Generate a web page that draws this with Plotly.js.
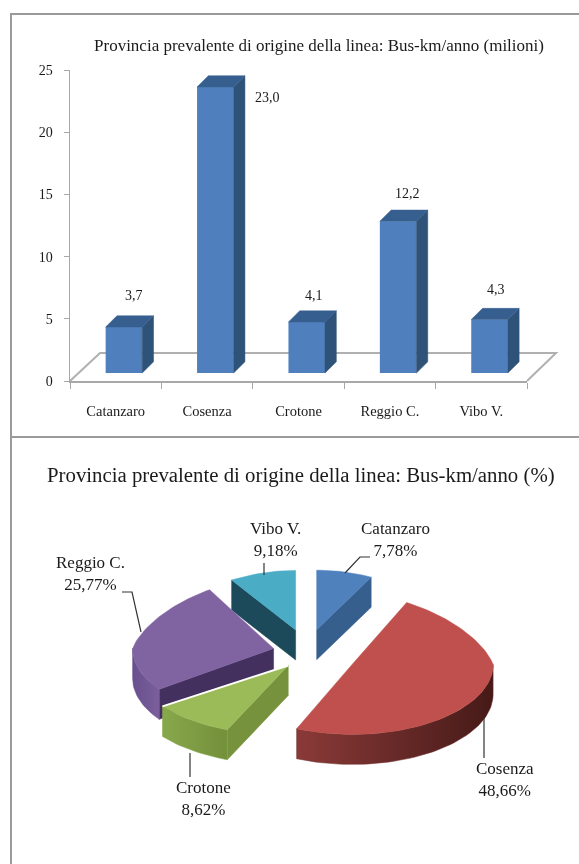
<!DOCTYPE html>
<html><head><meta charset="utf-8">
<script src="https://cdn.plot.ly/plotly-3.0.1.min.js"></script>
<style>html,body{margin:0;padding:0;background:#fff;overflow:hidden}#g{width:579px;height:864px;filter:blur(0.4px)}</style>
</head><body><div id="g"></div>
<script>
// ---- data ----
const categories = ['Catanzaro','Cosenza','Crotone','Reggio C.','Vibo V.'];
const busKm = [3.7,23.0,4.1,12.2,4.3];
const sharePct = [7.78,48.66,8.62,25.77,9.18];
const barTitle = 'Provincia prevalente di origine della linea: Bus-km/anno (milioni)';
const pieTitle = 'Provincia prevalente di origine della linea: Bus-km/anno (%)';
const yTicks = [0,5,10,15,20,25];

// ---- styles ----
const W=579,H=864, FONT='"Liberation Serif",serif', INK='#1a1a1a', GRID='#a8a8a8';
const barFront='#4f80bd', barSide='#2f5279', barTop='#365f8f';
const sliceTop=['#4f81bd','#c0504d','#9bbb59','#8064a2','#4bacc6'];
const sliceFace=['#365f8e','#5a2220','#76923c','#43305f','#1d4a5a'];
const comma=(v,d)=>v.toFixed(d).replace('.',',');
const fx=p=>p/W, fy=p=>1-p/H;

// ---- bar chart 3D construction (in axis units) ----
const barBase=0.64, barW=0.4, barOff=-0.11, depthX=0.124, depthY=0.9;
const faceTrace=(xs,ys,color)=>({type:'scatter',mode:'lines',x:xs.concat(xs[0]),y:ys.concat(ys[0]),xaxis:'x3',yaxis:'y',
  fill:'toself',fillcolor:color,line:{color:color,width:0.5},hoverinfo:'skip',showlegend:false});
const traces=[{type:'bar',x:categories,y:busKm,base:barBase,width:barW,offset:barOff,
  marker:{color:barFront,line:{width:0}},xaxis:'x',yaxis:'y',showlegend:false}];
busKm.forEach((v,i)=>{
  const L=i+barOff,R=L+barW,T=v+barBase;
  traces.push(faceTrace([R,R,R+depthX,R+depthX],[barBase,T,T+depthY,barBase+depthY],barSide));
  traces.push(faceTrace([L,R,R+depthX,L+depthX],[T,T,T+depthY,T+depthY],barTop));
});
const labelShift=[[18,-32],[60,11],[15,-27],[18,-28],[15,-30]];
const anns=busKm.map((v,i)=>({xref:'x3',yref:'y',x:i,y:v+barBase,text:comma(v,1),showarrow:false,
  xshift:labelShift[i][0],yshift:-labelShift[i][1],font:{family:FONT,size:14,color:INK},xanchor:'center',yanchor:'middle'}));

// ---- pie construction (pixel-scaled hidden axes) ----
const cx=307,cy=652,rx=141,ry=70,pullX=40,pullY=23,depth=30;
const pullK=[1,1.25,0.75,0.85,1], backK=[0.85,1,1,1,0.85], rxK=[1,1,1.1,1,1];
const total=sharePct.reduce((a,b)=>a+b,0);
let cum=0;
const spans=sharePct.map(v=>{const a=cum;cum+=v/total*360;return [a,cum];});
const rad=d=>d*Math.PI/180;
function rim(i,t){const c=centers[i],s=Math.sin(rad(t)),k=Math.cos(rad(t));
  return [c[0]+rx*rxK[i]*s*(k>0?1-0.2*k:1), c[1]-ry*k*(k>0?backK[i]:1)];}
function arc(i,a,b){const n=Math.max(2,Math.ceil(Math.abs(b-a)/2)),o=[];
  for(let j=0;j<=n;j++)o.push(rim(i,a+(b-a)*j/n));return o;}
function poly(pts,color,grad){const xs=pts.map(p=>p[0]),ys=pts.map(p=>p[1]);
  const t={type:'scatter',mode:'lines',x:xs.concat(xs[0]),y:ys.concat(ys[0]),xaxis:'x2',yaxis:'y2',fill:'toself',
    line:{color:color,width:0.5},hoverinfo:'skip',showlegend:false};
  if(grad)t.fillgradient={type:'horizontal',colorscale:[[0,grad[0]],[1,grad[1]]]};else t.fillcolor=color;
  return t;}
const centers=spans.map((s,i)=>{const m=rad((s[0]+s[1])/2);
  return [cx+pullX*pullK[i]*Math.sin(m),cy-pullY*pullK[i]*Math.cos(m)];});
const down=pts=>pts.map(p=>[p[0],p[1]+depth]);
const wallOf=(i,a,b)=>{const top=arc(i,a,b);return top.concat(down(top).reverse());};
const cutFace=(i,t)=>{const c=centers[i],e=rim(i,t);return [c,e,[e[0],e[1]+depth],[c[0],c[1]+depth]];};
const topFace=i=>[centers[i]].concat(arc(i,spans[i][0],spans[i][1]));
// back to front: Vibo, Catanzaro, Reggio, Cosenza, Crotone
traces.push(poly(cutFace(4,spans[4][0]),sliceFace[4]),poly(topFace(4),sliceTop[4]));
traces.push(poly(cutFace(0,spans[0][1]),sliceFace[0]),poly(topFace(0),sliceTop[0]));
traces.push(poly(cutFace(3,spans[3][0]),sliceFace[3]),
  poly(wallOf(3,spans[3][0],270),'#6d5490',['#6a4f8e','#7a5f9c']),poly(topFace(3),sliceTop[3]));
traces.push(poly(wallOf(1,90,spans[1][1]),'#6a2a28',['#8a3a38','#461a18']),poly(topFace(1),sliceTop[1]));
traces.push(poly(cutFace(2,spans[2][0]),sliceFace[2]),
  poly(wallOf(2,spans[2][0],spans[2][1]),'#86a64a',['#88a84c','#73903a']),
  poly(topFace(2),sliceTop[2]));
// thin white gap between Crotone's upper edge and Reggio C.
const gapEnd=rim(2,spans[2][1]);
traces.push({type:'scatter',mode:'lines',x:[centers[2][0],gapEnd[0]],y:[centers[2][1],gapEnd[1]],xaxis:'x2',yaxis:'y2',
  line:{color:'#fff',width:2},hoverinfo:'skip',showlegend:false});

// leader lines
const leaders=[[[345,573],[360,557],[370,557]],[[484,718],[484,758]],[[190,753],[190,777]],[[141,632],[132,592],[122,592]],[[264,563],[264,575]]];
leaders.forEach(l=>traces.push({type:'scatter',mode:'lines',x:l.map(p=>p[0]),y:l.map(p=>p[1]),xaxis:'x2',yaxis:'y2',
  line:{color:'#333',width:1.2},hoverinfo:'skip',showlegend:false}));
const pieLabelPos=[[395,539],[505,779],[203,798],[90,573],[275,539]];
sharePct.forEach((v,i)=>anns.push({xref:'x2',yref:'y2',x:pieLabelPos[i][0],y:pieLabelPos[i][1],
  text:categories[i]+'<br>'+comma(v,2)+'%',showarrow:false,align:'center',xanchor:'center',yanchor:'middle',
  font:{family:FONT,size:17,color:INK}}));
anns.push({xref:'paper',yref:'paper',x:fx(301),y:fy(475),text:pieTitle,showarrow:false,xanchor:'center',yanchor:'middle',
  font:{family:FONT,size:20.8,color:INK}});

const framePath=`M ${fx(11)} ${fy(14)} L 1.02 ${fy(14)} L 1.02 ${fy(437)} L ${fx(11)} ${fy(437)} Z M ${fx(11)} ${fy(437)} L ${fx(11)} 0`;
const floorPath=`M ${fx(70)} ${fy(381)} L ${fx(100)} ${fy(353)} L ${fx(556)} ${fy(353)} L ${fx(527)} ${fy(381)}`;
const layout={width:W,height:H,margin:{l:0,r:0,t:0,b:0},paper_bgcolor:'#fff',plot_bgcolor:'rgba(0,0,0,0)',showlegend:false,
  title:{text:barTitle,x:fx(319),xanchor:'center',y:fy(45),yanchor:'middle',font:{family:FONT,size:17,color:INK}},
  xaxis:{type:'category',categoryorder:'array',categoryarray:categories,domain:[fx(70),fx(527)],anchor:'y',range:[-0.5,4.5],
    tickson:'boundaries',ticks:'outside',ticklen:6,tickcolor:GRID,showline:true,linecolor:GRID,linewidth:2,showgrid:false,
    ticklabelstandoff:16,tickfont:{family:FONT,size:14.5,color:INK},fixedrange:true},
  yaxis:{domain:[fy(381),fy(70)],anchor:'x',range:[0,25],tickmode:'array',tickvals:yTicks,ticks:'outside',ticklen:5,tickcolor:GRID,
    showline:true,linecolor:GRID,linewidth:1.5,showgrid:false,zeroline:false,ticklabelstandoff:8,tickfont:{family:FONT,size:14,color:INK},fixedrange:true},
  xaxis3:{overlaying:'x',anchor:'y',range:[-0.5,4.5],visible:false,fixedrange:true},
  xaxis2:{domain:[0,1],range:[0,W],anchor:'y2',visible:false,fixedrange:true},
  yaxis2:{domain:[0,fy(437)],range:[H,437],anchor:'x2',visible:false,fixedrange:true},
  shapes:[
   {type:'path',xref:'paper',yref:'paper',path:framePath,line:{color:'#9a9a9a',width:2},layer:'below'},
   {type:'path',xref:'paper',yref:'paper',path:floorPath,line:{color:'#b0b0b0',width:2},layer:'below'}
  ],
  annotations:anns};
Plotly.newPlot('g',traces,layout,{displayModeBar:false,staticPlot:true});
</script></body></html>
